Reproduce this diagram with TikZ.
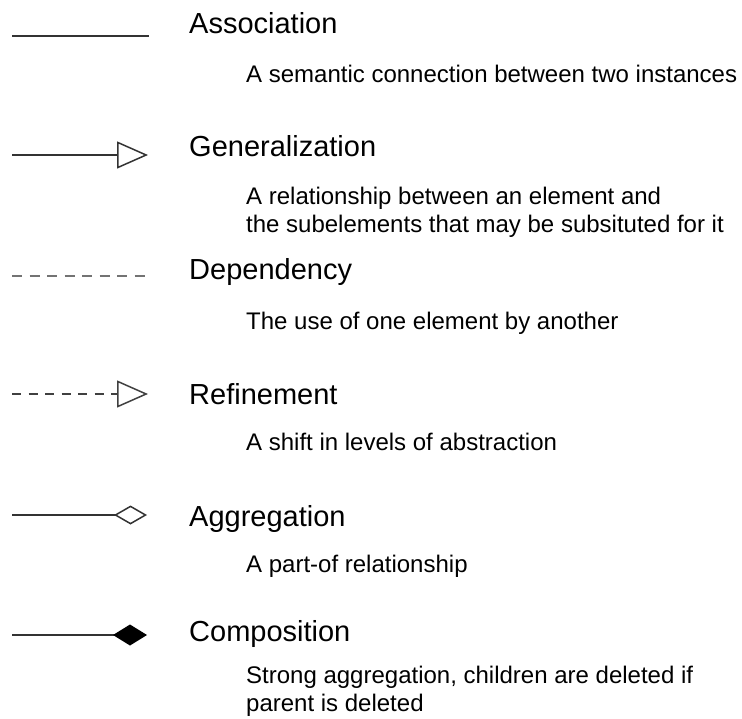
\documentclass[tikz,border=0pt]{standalone}
\usepackage{fontspec}
\setmainfont{Liberation Sans}
\usetikzlibrary{arrows.meta}
\begin{document}
\begin{tikzpicture}[x=1pt,y=-1pt,
  title/.style={anchor=base west,inner sep=0pt,font=\fontsize{29}{34}\selectfont,text=black},
  desc/.style={anchor=base west,inner sep=0pt,align=left,font=\fontsize{24}{27.5}\selectfont,text=black},
  rel/.style={line width=1.5pt,draw=black!80},
  dashrel/.style={line width=1.5pt,draw=black!55,dash pattern=on 10pt off 7.5pt},
  opentri/.style={-{Triangle[open,length=31pt,width=27pt,line width=1.5pt]}},
  opendia/.style={-{Diamond[open,length=33pt,width=19pt,line width=1.5pt]}},
  filldia/.style={-{Diamond[length=34pt,width=21pt,color=black,fill=black]}}
]
\useasboundingbox (0,0) rectangle (742,718);

% Association
\coordinate (as1) at (12,36);
\coordinate (as2) at (149,36);
\draw[rel] (as1) -- (as2);
\node[title] (ast) at (189,33) {Association};
\node[desc] (asd) at (246,82) {A semantic connection between two instances};

% Generalization (base anchor of a two-line node sits on its last line)
\coordinate (ge1) at (12,155);
\coordinate (ge2) at (148,155);
\draw[rel,opentri] (ge1) -- (ge2);
\node[title] (get) at (189,156) {Generalization};
\node[desc] (ged) at (246,232) {A relationship between an element and\\the subelements that may be subsituted for it};

% Dependency
\coordinate (de1) at (12,276);
\coordinate (de2) at (149,276);
\draw[dashrel] (de1) -- (de2);
\node[title] (det) at (189,279) {Dependency};
\node[desc] (ded) at (246,329) {The use of one element by another};

% Refinement
\coordinate (re1) at (12,394);
\coordinate (re2) at (148,394);
\draw[dashrel,draw=black!75,dash pattern=on 9pt off 7.5pt,opentri] (re1) -- (re2);
\node[title] (ret) at (189,404) {Refinement};
\node[desc] (red) at (246,450) {A shift in levels of abstraction};

% Aggregation
\coordinate (ag1) at (12,515);
\coordinate (ag2) at (147,515);
\draw[rel,opendia] (ag1) -- (ag2);
\node[title] (agt) at (189,526) {Aggregation};
\node[desc] (agd) at (246,572) {A part-of relationship};

% Composition
\coordinate (co1) at (12,635);
\coordinate (co2) at (147,635);
\draw[rel,filldia] (co1) -- (co2);
\node[title] (cot) at (189,641) {Composition};
\node[desc] (cod) at (246,711) {Strong aggregation, children are deleted if\\parent is deleted};
\end{tikzpicture}
\end{document}
